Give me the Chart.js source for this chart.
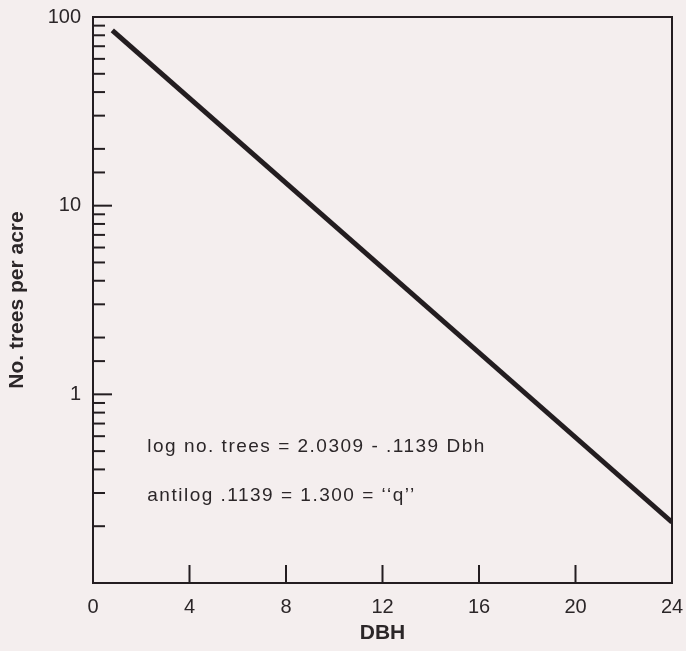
<!DOCTYPE html>
<html>
<head>
<meta charset="utf-8">
<script src="https://cdn.jsdelivr.net/npm/chart.js@4.4.1/dist/chart.umd.min.js"></script>
<style>
  html, body { margin: 0; padding: 0; background: #f4eeee; }
  #wrap { width: 686px; height: 651px; }
</style>
</head>
<body>
<div id="wrap"><canvas id="treesChart" width="686" height="651"></canvas></div>
<script>
// diameter (inches) and stand density along the fitted line
const dbh = [0.8, 24];
const treesPerAcre = [85, 0.21];

const xTicks = [0, 4, 8, 12, 16, 20, 24];
const yLabels = [1, 10, 100];
const equationLines = [
    'log no. trees = 2.0309 - .1139 Dbh',
    'antilog .1139 = 1.300 = \u2018\u2018q\u2019\u2019'
];
// where the two equation lines sit, in data units
const equationX = [2.25, 2.25];
const equationY = [0.53, 0.29];

const ink = '#231d20';
const textInk = '#2b2628';
const fontFamily = '"Liberation Sans", Arial, Helvetica, sans-serif';

// frame, inward tick marks and the equation text
const framePlugin = {
    id: 'frame',
    afterDraw(chart) {
        const { ctx, chartArea: a } = chart;
        const xs = chart.scales.x;
        const ys = chart.scales.y;
        ctx.save();
        ctx.strokeStyle = ink;
        ctx.lineWidth = 2;
        ctx.strokeRect(a.left, a.top, a.right - a.left, a.bottom - a.top);

        ys.ticks.forEach(t => {
            const y = ys.getPixelForValue(t.value);
            const len = yLabels.includes(t.value) ? 19 : 12;
            ctx.beginPath();
            ctx.moveTo(a.left, y);
            ctx.lineTo(a.left + len, y);
            ctx.stroke();
        });
        xs.ticks.forEach(t => {
            if (t.value <= xs.min || t.value >= xs.max) return;
            const x = xs.getPixelForValue(t.value);
            ctx.beginPath();
            ctx.moveTo(x, a.bottom);
            ctx.lineTo(x, a.bottom - 18);
            ctx.stroke();
        });

        ctx.fillStyle = textInk;
        ctx.font = '19px ' + fontFamily;
        ctx.letterSpacing = '1.5px';
        ctx.textBaseline = 'middle';
        equationLines.forEach((txt, i) => {
            ctx.fillText(txt, xs.getPixelForValue(equationX[i]), ys.getPixelForValue(equationY[i]));
        });
        ctx.restore();
    }
};

new Chart(document.getElementById('treesChart'), {
    type: 'line',
    data: {
        datasets: [{
            data: dbh.map((d, i) => ({ x: d, y: treesPerAcre[i] })),
            borderColor: ink,
            borderWidth: 5,
            pointRadius: 0,
            fill: false
        }]
    },
    options: {
        responsive: false,
        animation: false,
        layout: { padding: { top: 17, right: 14, left: 0, bottom: 0 } },
        plugins: {
            legend: { display: false },
            tooltip: { enabled: false }
        },
        scales: {
            x: {
                type: 'linear',
                min: 0,
                max: 24,
                afterBuildTicks: scale => {
                    scale.ticks = xTicks.map(v => ({ value: v }));
                },
                grid: { display: false, drawTicks: false },
                border: { display: false },
                ticks: {
                    color: textInk,
                    padding: 12,
                    maxRotation: 0,
                    font: { family: fontFamily, size: 20 }
                },
                title: {
                    display: true,
                    text: 'DBH',
                    color: textInk,
                    padding: { top: 4, bottom: 5 },
                    font: { family: fontFamily, size: 21, weight: 'bold' }
                },
                afterFit: scale => {
                    scale.height = 68;
                    scale.paddingLeft = 0;
                    scale.paddingRight = 0;
                }
            },
            y: {
                type: 'logarithmic',
                min: 0.1,
                max: 100,
                grid: { display: false, drawTicks: false },
                border: { display: false },
                ticks: {
                    color: textInk,
                    padding: 12,
                    autoSkip: false,
                    font: { family: fontFamily, size: 20 },
                    callback: v => yLabels.includes(v) ? String(v) : ''
                },
                title: {
                    display: true,
                    text: 'No. trees per acre',
                    color: textInk,
                    padding: { top: 5, bottom: 20 },
                    font: { family: fontFamily, size: 21, weight: 'bold' }
                },
                afterFit: scale => {
                    scale.width = 93;
                    scale.paddingTop = 0;
                    scale.paddingBottom = 0;
                }
            }
        }
    },
    plugins: [framePlugin]
});
</script>
</body>
</html>
